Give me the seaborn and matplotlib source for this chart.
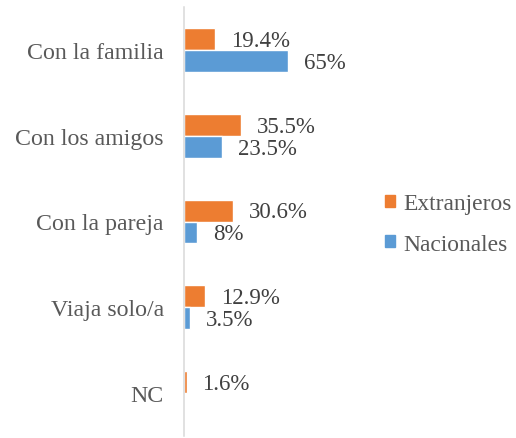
import seaborn as sns
import matplotlib.pyplot as plt
from matplotlib.patches import Patch
import pandas as pd

# Data
categorias = ['Con la familia', 'Con los amigos', 'Con la pareja', 'Viaja solo/a', 'NC']
extranjeros = [19.4, 35.5, 30.6, 12.9, 1.6]
nacionales = [65, 23.5, 8, 3.5, 0]
etiquetas_ext = ['19.4%', '35.5%', '30.6%', '12.9%', '1.6%']
etiquetas_nac = ['65%', '23.5%', '8%', '3.5%', '']

df = pd.DataFrame({'categoria': categorias,
                   'Extranjeros': extranjeros,
                   'Nacionales': nacionales})
df = df.melt(id_vars='categoria', var_name='grupo', value_name='pct')

sns.set_style('white')
plt.rcParams['font.family'] = ['Liberation Serif', 'DejaVu Serif']
color_txt = '#404040'
color_cat = '#595959'
paleta = {'Extranjeros': '#ED7D31', 'Nacionales': '#5B9BD5'}

fig = plt.figure(figsize=(5.16, 4.39), dpi=100)
ax = fig.add_axes([184 / 516, 2 / 439, 186 / 516, 429 / 439])

sns.barplot(data=df, y='categoria', x='pct', hue='grupo', order=categorias,
            hue_order=['Extranjeros', 'Nacionales'], palette=paleta,
            width=0.51, orient='h', saturation=1, legend=False, ax=ax)

# Data labels
for cont, etiquetas in zip(ax.containers, [etiquetas_ext, etiquetas_nac]):
    for bar, txt in zip(cont, etiquetas):
        if not txt:
            continue
        ax.annotate(txt, (bar.get_width(), bar.get_y() + bar.get_height() / 2),
                    xytext=(11.5, -1), textcoords='offset points',
                    va='center', ha='left', fontsize=16.5, color=color_txt)

ax.set_xlim(0, 116.25)
ax.set_xlabel('')
ax.set_ylabel('')
ax.set_xticks([])
ax.tick_params(axis='y', length=0, pad=14.5, labelsize=17.2, labelcolor=color_cat)
for s in ['top', 'right', 'bottom']:
    ax.spines[s].set_visible(False)
ax.spines['left'].set_color('#d9d9d9')
ax.spines['left'].set_linewidth(1.1)

# Legend
handles = [Patch(color=paleta['Extranjeros']), Patch(color=paleta['Nacionales'])]
fig.legend(handles, ['Extranjeros', 'Nacionales'], loc='center left',
           bbox_to_anchor=(385 / 516, 1 - 225 / 439), frameon=False,
           borderpad=0, borderaxespad=0, handlelength=0.43, handleheight=0.43,
           handletextpad=0.35, labelspacing=0.82, fontsize=16.9, labelcolor=color_cat)

plt.savefig('out.png', dpi=100)
